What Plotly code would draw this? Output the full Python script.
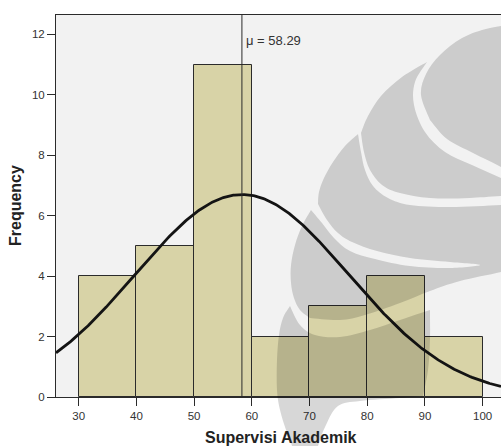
import numpy as np
import plotly.graph_objects as go

# ---- data -------------------------------------------------------------
bin_left = [30, 40, 50, 60, 70, 80, 90]
bin_width = 10
frequency = [4, 5, 11, 2, 3, 4, 2]
mean_value = 58.29
std_dev = 18.46
n_total = sum(frequency)

x_ticks = [30, 40, 50, 60, 70, 80, 90, 100]
y_ticks = [0, 2, 4, 6, 8, 10, 12]
x_range = [26.07, 103.19]
y_range = [0, 12.64]

FONT = "Liberation Sans, Arial, sans-serif"
TXT = "#333333"

# ---- figure geometry (pixels) -----------------------------------------
W, H = 501, 446
ML, MR, MT, MB = 56, 0, 15, 49
PW, PH = W - ML - MR, H - MT - MB


def to_paper(px, py):
    return (px - ML) / PW, (H - MB - py) / PH


def smooth_path(edges):
    """Closed SVG path in paper coords; each edge is a smooth Catmull-Rom run."""
    parts = []
    start = to_paper(*edges[0][0])
    parts.append(f"M {start[0]:.4f},{start[1]:.4f}")
    for pts in edges:
        P = [np.array(to_paper(*p)) for p in pts]
        for i in range(len(P) - 1):
            p0 = P[i - 1] if i > 0 else P[i]
            p1, p2 = P[i], P[i + 1]
            p3 = P[i + 2] if i + 2 < len(P) else P[i + 1]
            c1 = p1 + (p2 - p0) / 6
            c2 = p2 - (p3 - p1) / 6
            parts.append(
                f"C {c1[0]:.4f},{c1[1]:.4f} {c2[0]:.4f},{c2[1]:.4f} {p2[0]:.4f},{p2[1]:.4f}"
            )
    parts.append("Z")
    return " ".join(parts)


# background emblem (nested crescents), pixel outlines
emblem = [
    # inner blob
    [[(430, 120), (421, 95), (426, 74), (440, 55), (462, 38), (490, 28), (530, 22)],
     [(530, 22), (530, 185)],
     [(530, 185), (501, 167), (473, 153), (447, 139), (430, 120)]],
    # second ring
    [[(427, 62), (402, 77), (381, 96), (368, 116), (361, 133)],
     [(361, 133), (364, 152), (370, 170), (382, 185), (400, 193), (430, 198), (470, 198), (530, 194)],
     [(530, 194), (530, 190)],
     [(530, 190), (501, 178), (472, 165), (445, 152), (425, 132), (414, 105), (415, 82), (427, 62)]],
    # third ring
    [[(358, 134), (345, 146), (333, 162), (324, 178), (319, 192), (318, 204)],
     [(318, 204), (327, 220), (338, 233), (352, 242), (377, 251), (410, 258), (450, 262), (480, 265),
      (450, 268), (410, 266), (375, 259), (350, 251), (334, 238), (322, 223), (311, 210)],
     [(311, 210), (302, 226), (295, 245), (291, 265), (291, 283), (294, 298), (300, 310), (310, 318)],
     [(310, 318), (340, 320), (365, 315), (400, 303), (430, 291), (460, 281), (501, 272), (530, 264)],
     [(530, 264), (530, 203)],
     [(530, 203), (501, 205), (450, 207), (410, 205), (388, 198), (373, 186), (365, 170), (361, 152), (358, 134)]],
    # outer ring
    [[(290, 306), (283, 318), (279, 335), (277, 360), (277, 390), (280, 410), (286, 430), (292, 446), (296, 470)],
     [(296, 470), (314, 470)],
     [(314, 470), (318, 446), (326, 425), (338, 406), (360, 401), (400, 398), (423, 396)],
     [(423, 396), (428, 370), (430, 340), (430, 310)],
     [(430, 310), (400, 320), (370, 330), (340, 337), (315, 335), (300, 325), (290, 306)]],
]

# ---- traces -----------------------------------------------------------
centers = [b + bin_width / 2 for b in bin_left]
bars = go.Bar(
    x=centers,
    y=frequency,
    width=[bin_width] * len(centers),
    marker=dict(color="#D8D3A7", line=dict(color="#2b2b2b", width=1)),
    hoverinfo="x+y",
    showlegend=False,
)

xs = np.linspace(x_range[0], x_range[1], 400)
ys = n_total * bin_width / (std_dev * np.sqrt(2 * np.pi)) * np.exp(
    -0.5 * ((xs - mean_value) / std_dev) ** 2
)
curve = go.Scatter(
    x=xs, y=ys, mode="lines",
    line=dict(color="#141414", width=2.8),
    hoverinfo="skip", showlegend=False,
)

fig = go.Figure([bars, curve])

shapes = [
    dict(type="line", xref="x", yref="paper", x0=mean_value, x1=mean_value, y0=0, y1=1,
         line=dict(color="#2b2b2b", width=1), layer="above"),
]
for edges in emblem:
    shapes.append(dict(type="path", xref="paper", yref="paper", path=smooth_path(edges),
                       fillcolor="rgba(0,0,0,0.155)", line=dict(width=0), layer="above"))

axis_common = dict(
    showgrid=False, zeroline=False, showline=True, linecolor="#2b2b2b", linewidth=1,
    ticks="outside", ticklen=8, tickwidth=1, tickcolor="#2b2b2b",
    tickfont=dict(family=FONT, size=11.5, color=TXT),
)

fig.update_layout(
    width=W, height=H,
    margin=dict(l=ML, r=MR, t=MT, b=MB),
    paper_bgcolor="white",
    plot_bgcolor="#F2F2F2",
    bargap=0,
    font=dict(family=FONT, color=TXT),
    xaxis=dict(range=x_range, tickvals=x_ticks, mirror=True, **axis_common),
    yaxis=dict(range=y_range, tickvals=y_ticks, **axis_common),
    shapes=shapes,
    annotations=[
        dict(x=mean_value, y=11.81, xref="x", yref="y", text=f"μ = {mean_value:.2f}",
             showarrow=False, xanchor="left", yanchor="middle", xshift=2,
             font=dict(family=FONT, size=13, color=TXT)),
        dict(x=-0.0921, y=0.5, xref="paper", yref="paper", text="<b>Frequency</b>",
             showarrow=False, textangle=-90, xanchor="center", yanchor="middle",
             font=dict(family=FONT, size=16, color="#222222")),
        dict(x=0.5056, y=-0.1073, xref="paper", yref="paper", text="<b>Supervisi Akademik</b>",
             showarrow=False, xanchor="center", yanchor="middle",
             font=dict(family=FONT, size=16, color="#222222")),
    ],
)

fig.write_html("out.html")
